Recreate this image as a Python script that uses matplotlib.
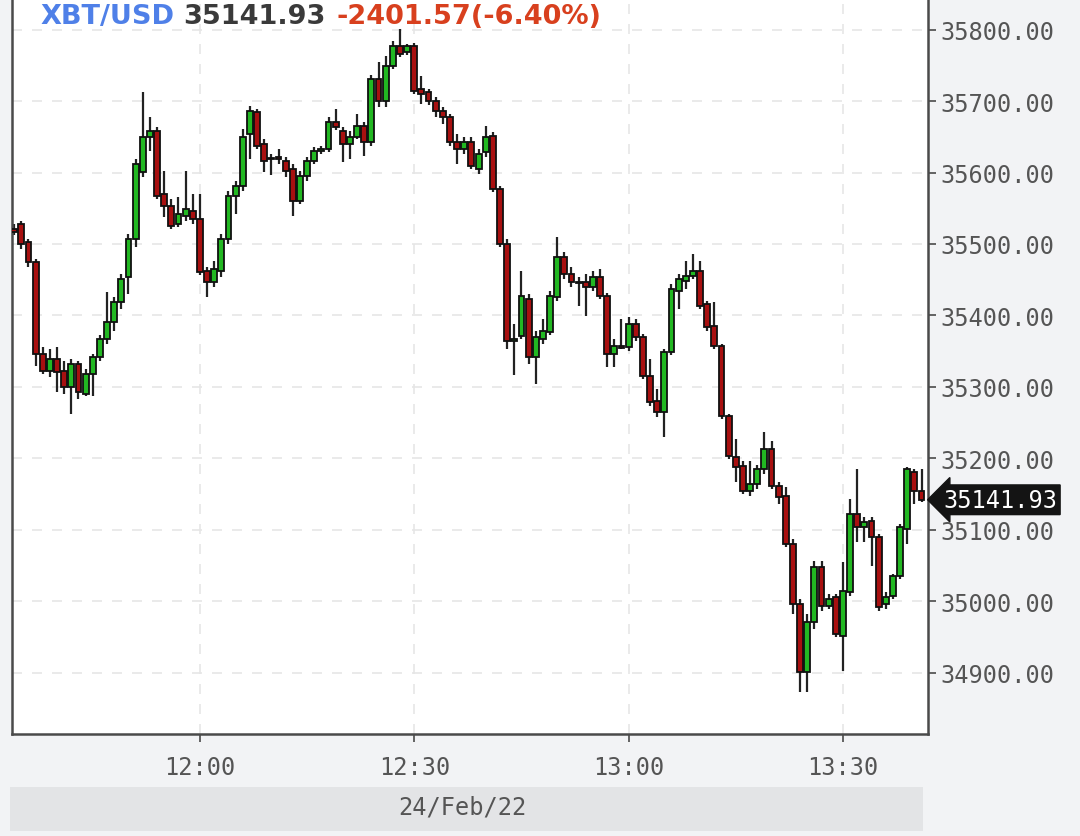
import numpy as np
import pandas as pd
import matplotlib
matplotlib.use("Agg")
import matplotlib.pyplot as plt
import matplotlib.dates as mdates
import matplotlib.transforms as mtransforms
from matplotlib.patches import Rectangle

# 1-minute candles, XBT/USD, 24 Feb 2022 from 11:34
start_time = "2022-02-24 11:34"
opens = [35521, 35528, 35503, 35475, 35346, 35322, 35339, 35322, 35300, 35332,
         35290, 35318, 35342, 35367, 35391, 35419, 35454, 35507, 35601, 35650,
         35658, 35570, 35553, 35528, 35539, 35546, 35535, 35462, 35447, 35462,
         35507, 35567, 35581, 35654, 35685, 35640, 35619, 35622, 35616, 35605,
         35560, 35595, 35616, 35630, 35633, 35671, 35658, 35640, 35650, 35665,
         35643, 35731, 35700, 35749, 35777, 35769, 35777, 35717, 35713, 35700,
         35686, 35678, 35643, 35633, 35643, 35605, 35629, 35651, 35577, 35500,
         35364, 35371, 35423, 35342, 35367, 35377, 35426, 35482, 35458, 35447,
         35447, 35440, 35454, 35427, 35346, 35357, 35356, 35388, 35370, 35315,
         35280, 35265, 35349, 35434, 35448, 35455, 35462, 35416, 35385, 35357,
         35259, 35202, 35189, 35154, 35164, 35185, 35213, 35161, 35147, 35080,
         34996, 34901, 34971, 35048, 34993, 35006, 34951, 35013, 35122, 35104,
         35112, 35090, 34996, 35007, 35035, 35101, 35181, 35154]
closes = [35517, 35500, 35475, 35346, 35322, 35339, 35321, 35300, 35332, 35293,
          35318, 35342, 35367, 35391, 35419, 35451, 35507, 35612, 35650, 35658,
          35567, 35553, 35525, 35542, 35549, 35535, 35461, 35447, 35465, 35507,
          35567, 35581, 35650, 35686, 35637, 35616, 35619, 35619, 35602, 35560,
          35595, 35616, 35630, 35633, 35671, 35664, 35640, 35650, 35665, 35643,
          35731, 35700, 35749, 35777, 35766, 35777, 35714, 35710, 35700, 35686,
          35678, 35643, 35633, 35643, 35609, 35626, 35650, 35577, 35500, 35364,
          35367, 35427, 35342, 35370, 35378, 35427, 35482, 35458, 35447, 35445,
          35440, 35454, 35427, 35346, 35357, 35355, 35388, 35370, 35315, 35279,
          35265, 35349, 35437, 35451, 35455, 35462, 35413, 35384, 35357, 35259,
          35203, 35188, 35154, 35164, 35185, 35213, 35161, 35146, 35080, 34996,
          34901, 34971, 35048, 34993, 35003, 34954, 35014, 35122, 35104, 35111,
          35090, 34992, 35006, 35035, 35104, 35185, 35154, 35141.93]
highs = [35528, 35532, 35507, 35479, 35356, 35353, 35356, 35336, 35339, 35336,
         35325, 35346, 35373, 35433, 35426, 35458, 35514, 35619, 35713, 35678,
         35664, 35602, 35563, 35566, 35602, 35570, 35570, 35468, 35476, 35514,
         35574, 35588, 35661, 35693, 35689, 35647, 35626, 35633, 35622, 35612,
         35602, 35622, 35636, 35637, 35678, 35689, 35664, 35658, 35682, 35671,
         35737, 35755, 35763, 35784, 35801, 35780, 35781, 35735, 35717, 35706,
         35692, 35682, 35654, 35650, 35650, 35633, 35665, 35657, 35581, 35507,
         35388, 35462, 35430, 35378, 35395, 35434, 35510, 35489, 35468, 35454,
         35458, 35462, 35465, 35431, 35367, 35395, 35398, 35395, 35374, 35339,
         35297, 35353, 35444, 35458, 35476, 35486, 35476, 35420, 35419, 35360,
         35262, 35227, 35196, 35196, 35191, 35237, 35224, 35167, 35160, 35087,
         35003, 34982, 35056, 35056, 35010, 35010, 35055, 35143, 35185, 35118,
         35118, 35094, 35013, 35038, 35108, 35188, 35185, 35185]
lows = [35513, 35493, 35468, 35329, 35318, 35314, 35293, 35290, 35262, 35283,
        35287, 35287, 35336, 35360, 35378, 35409, 35430, 35496, 35594, 35630,
        35563, 35538, 35521, 35524, 35532, 35528, 35457, 35426, 35440, 35454,
        35500, 35542, 35574, 35619, 35633, 35601, 35597, 35612, 35594, 35539,
        35556, 35588, 35612, 35626, 35629, 35660, 35615, 35619, 35647, 35623,
        35637, 35692, 35692, 35745, 35762, 35765, 35710, 35696, 35695, 35678,
        35668, 35637, 35612, 35626, 35605, 35598, 35622, 35573, 35496, 35353,
        35317, 35367, 35332, 35304, 35360, 35373, 35420, 35451, 35440, 35413,
        35399, 35434, 35423, 35328, 35328, 35353, 35350, 35364, 35311, 35273,
        35258, 35230, 35345, 35409, 35437, 35451, 35409, 35378, 35353, 35255,
        35199, 35167, 35150, 35147, 35157, 35178, 35157, 35136, 35076, 34982,
        34873, 34873, 34961, 34986, 34989, 34950, 34902, 35007, 35083, 35083,
        35049, 34986, 34989, 35003, 35031, 35080, 35136, 35139]

y_ticks = [34900, 35000, 35100, 35200, 35300, 35400, 35500, 35600, 35700, 35800]
symbol = "XBT/USD"
last_price = 35141.93
change = -2401.57
change_pct = -6.40
date_label = "24/Feb/22"

plt.rcParams['font.family'] = 'DejaVu Sans Mono'

times = pd.date_range(start_time, periods=len(opens), freq="min")
x = mdates.date2num(times.to_pydatetime())
one_min = 1.0 / 1440

fig = plt.figure(figsize=(10.8, 8.37), dpi=100, facecolor='#f2f3f5')
ax = fig.add_axes((12 / 1080, 1 - 735 / 837, 916 / 1080, 735 / 837))
ax.set_facecolor('white')

o = np.array(opens, dtype=float)
c = np.array(closes, dtype=float)
up = c >= o
body_bottom = np.minimum(o, c)
body_height = np.maximum(np.abs(c - o), 2.0)

ax.vlines(x, lows, highs, color='#222222', lw=1.6, zorder=2)
ax.bar(x[up], body_height[up], bottom=body_bottom[up], width=0.82 * one_min,
       color='#22b822', edgecolor='#101010', linewidth=1.3, zorder=3)
ax.bar(x[~up], body_height[~up], bottom=body_bottom[~up], width=0.82 * one_min,
       color='#a81010', edgecolor='#101010', linewidth=1.3, zorder=3)

t0 = mdates.date2num(pd.Timestamp("2022-02-24 12:00").to_pydatetime())
ax.set_xlim(t0 - 26.3 * one_min, t0 + 101.9 * one_min)
ax.set_ylim(34814, 35843)

ax.xaxis.set_major_locator(mdates.MinuteLocator(byminute=[0, 30]))
ax.xaxis.set_major_formatter(mdates.DateFormatter('%H:%M'))
ax.set_yticks(y_ticks)
ax.yaxis.set_major_formatter(plt.FormatStrFormatter('%.2f'))
ax.yaxis.tick_right()

ax.grid(True, color='#e6e6e6', linestyle=(0, (6, 6)), lw=1.2, zorder=0)
ax.set_axisbelow(True)

for side in ['left', 'bottom', 'right']:
    ax.spines[side].set_color('#4a4a4a')
    ax.spines[side].set_linewidth(1.8)
ax.spines['top'].set_visible(False)

ax.tick_params(axis='y', direction='out', length=6, width=1.2, color='#4a4a4a',
               labelsize=17, labelcolor='#555555', pad=3)
ax.tick_params(axis='x', direction='out', length=6, width=1.2, color='#4a4a4a',
               labelsize=17, labelcolor='#555555', pad=9)

# current price marker on the price axis
trans = mtransforms.blended_transform_factory(ax.transAxes, ax.transData)
ax.annotate(f"{last_price:.2f}", xy=(1.0, last_price), xycoords=trans,
            xytext=(11, 0), textcoords='offset points', ha='left', va='center',
            fontsize=17, color='white', zorder=10, annotation_clip=False,
            bbox=dict(boxstyle='larrow,pad=0.12', fc='#141414', ec='#141414'))

# title line
base_y = 1 - 24 / 837
fig.text(40 / 1080, base_y, symbol, color='#4f80e8', fontsize=19.5,
         fontweight='bold', family='DejaVu Sans', va='baseline')
fig.text(183 / 1080, base_y, f"{last_price:.2f}", color='#3a3a3a', fontsize=19.5,
         fontweight='bold', family='DejaVu Sans', va='baseline')
fig.text(337 / 1080, base_y, f"{change:.2f}({change_pct:.2f}%)", color='#d8401e',
         fontsize=19.5, fontweight='bold', family='DejaVu Sans', va='baseline')

# date band
fig.patches.append(Rectangle((10 / 1080, 1 - 832 / 837), 913 / 1080, 44 / 837,
                             transform=fig.transFigure, facecolor='#e3e4e6',
                             edgecolor='none', zorder=0))
fig.text(462 / 1080, 1 - 808 / 837, date_label, ha='center', va='center',
         fontsize=17, color='#555555')

fig.savefig('out.png', dpi=100, facecolor=fig.get_facecolor())
